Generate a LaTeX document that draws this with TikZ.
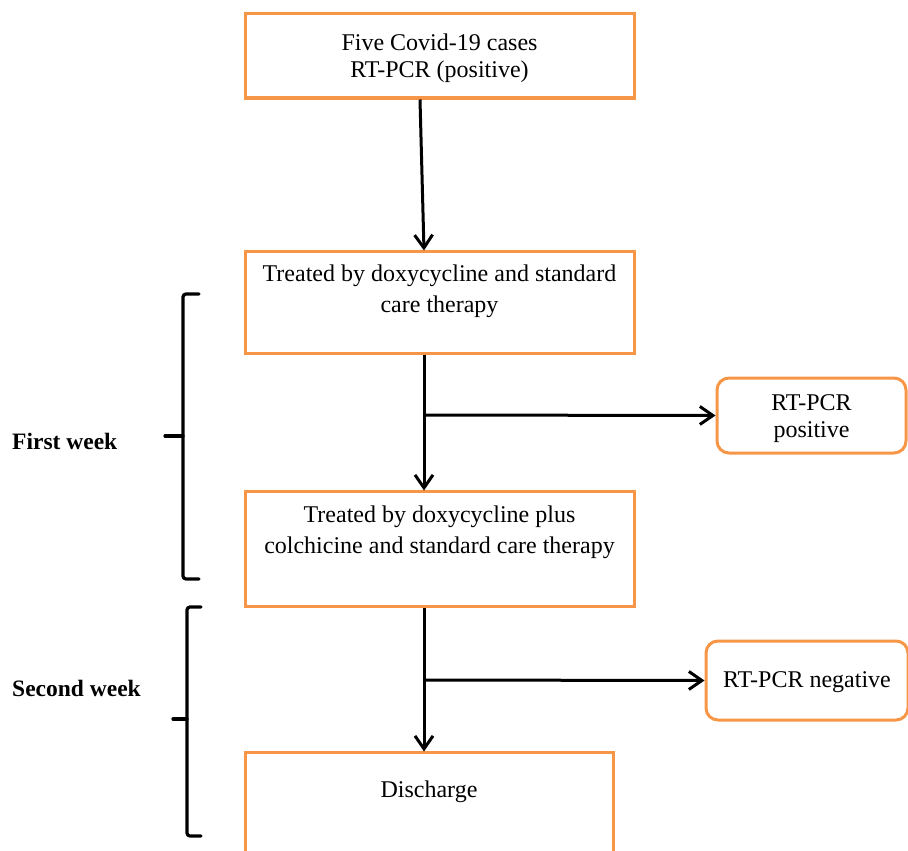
\documentclass[tikz,border=0pt]{standalone}
\usepackage{fontspec}
\setmainfont{Liberation Serif}
\usetikzlibrary{arrows.meta}
\definecolor{boxorange}{HTML}{F79646}
\tikzset{
  sqbox/.style={draw=boxorange, line width=3pt, minimum width=#1, inner sep=0pt},
  rbox/.style={draw=boxorange, line width=3pt, rounded corners=12pt, inner sep=0pt, align=center},
  txt/.style={align=center, inner sep=0pt, font=\fontsize{24}{31}\selectfont},
  arr/.style={line width=3pt, -{Straight Barb[length=13pt, width=18pt, line width=3pt]}},
  bracel/.style={line width=3.2pt, rounded corners=3pt, line cap=round},
  wk/.style={font=\fontsize{23.5}{28}\selectfont\bfseries, anchor=west, inner sep=0pt}
}
\begin{document}
\begin{tikzpicture}[x=1pt, y=-1pt]
\useasboundingbox (0,0) rectangle (908,851);
\clip (0,0) rectangle (908,851);
% boxes
\node[sqbox=389pt, minimum height=84pt] (b1) at (439.5,56) {};
\node[sqbox=389pt, minimum height=102pt] (b2) at (439.5,302) {};
\node[sqbox=389pt, minimum height=115pt] (b3) at (439.5,548.5) {};
\node[sqbox=368pt, minimum height=130pt] (b4) at (429,817) {};
\node[rbox, minimum width=189pt, minimum height=75pt] (pos) at (811.5,415.5) {};
\node[rbox, minimum width=202pt, minimum height=79pt] (neg) at (807,680.5) {};
% texts
\node[txt, font=\fontsize{24}{27}\selectfont] (t1) at (439.5,58.5) {Five Covid-19 cases\\RT-PCR (positive)};
\node[txt] (t2) at (439.5,291.5) {Treated by doxycycline and standard\\care therapy};
\node[txt] (t3) at (439.5,532.5) {Treated by doxycycline plus\\colchicine and standard care therapy};
\node[txt] (t4) at (429,792) {Discharge};
\node[txt, font=\fontsize{24}{27}\selectfont] (t5) at (811.5,418.5) {RT-PCR\\positive};
\node[txt] (t6) at (807,682) {RT-PCR negative};
% trunk coordinates
\coordinate (tx) at (424,0);
\coordinate (j1) at (424,415);
\coordinate (j2) at (424,680);
% arrows
\draw[arr] (b1.south -| 420,0) -- ([yshift=-1pt]b2.north -| tx);
\draw[arr] (b2.south -| tx) -- ([yshift=-1pt]b3.north -| tx);
\draw[arr] (b3.south -| tx) -- ([yshift=-1pt]b4.north -| tx);
\draw[arr] (j1) -- (pos.west);
\draw[arr] (j2) -- (neg.west);
% braces
\draw[bracel] (199,294) -- (183,294) -- (183,579) -- (199,579);
\draw[bracel, rounded corners=0pt] (183,436) -- (165,436);
\draw[bracel] (201,607) -- (187,607) -- (187,836) -- (201,836);
\draw[bracel, rounded corners=0pt] (187,719) -- (173,719);
% week labels
\node[wk] (w1) at (12,441) {First week};
\node[wk] (w2) at (12,688) {Second week};
\end{tikzpicture}
\end{document}
